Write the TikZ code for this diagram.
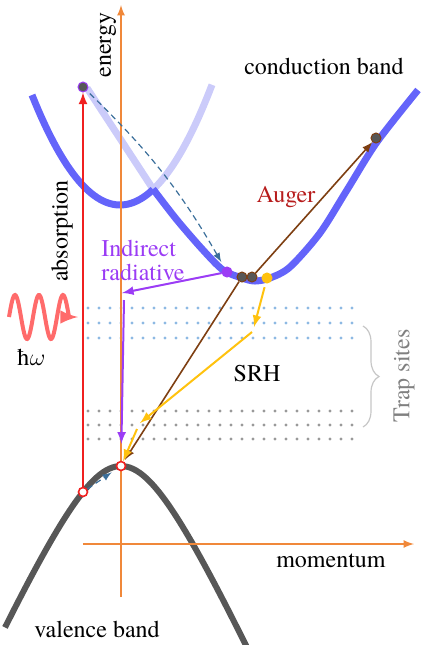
\documentclass[tikz,border=0pt]{standalone}
\usepackage{fontspec}
\setmainfont{texgyretermes}[Extension=.otf, UprightFont=*-regular, BoldFont=*-bold]
\usepackage{xcolor}
\usetikzlibrary{calc}
\usetikzlibrary{arrows}
\usetikzlibrary{decorations.pathreplacing}
\tikzset{>=latex}
\definecolor{cband}{HTML}{6464FA}
\definecolor{cbandlight}{HTML}{CBCBFA}
\definecolor{vband}{HTML}{575757}
\definecolor{axiscol}{HTML}{F0883A}
\definecolor{absred}{HTML}{F02020}
\definecolor{photoncol}{HTML}{FF6B6B}
\definecolor{radpurple}{HTML}{9B3CF5}
\definecolor{augbrown}{HTML}{7E3F12}
\definecolor{augred}{HTML}{B71C1C}
\definecolor{srhyellow}{HTML}{FFC20E}
\definecolor{phononcol}{HTML}{3A6E9A}
\definecolor{trapblue}{HTML}{8DB9E3}
\definecolor{trapgray}{HTML}{999999}
\tikzstyle{bandline} = [line width=3.5pt]
\tikzstyle{axisline} = [->, axiscol, line width=0.8pt]
\tikzstyle{electron} = [circle, inner sep=0pt, minimum size=5pt, fill=vband, draw=radpurple, line width=0.5pt]
\tikzstyle{hole} = [circle, inner sep=0pt, minimum size=4.5pt, fill=white, draw=absred, line width=0.8pt]
\tikzstyle{txt} = [font=\fontsize{12}{12}\selectfont, inner sep=1pt]
\tikzstyle{relax} = [->, phononcol, densely dashed, line width=0.6pt]
\tikzstyle{trans} = [->, line width=1pt]

\begin{document}
\begin{tikzpicture}[x=0.5pt, y=-0.5pt]
    \useasboundingbox (0,0) rectangle (436,645);

    % Draw the trap levels inside the gap
    \foreach \y in {308,323,338}
        \foreach \x in {88,99,...,352}
            \fill[trapblue] (\x,\y) circle (0.85pt);
    \foreach \y in {411,425,439}
        \foreach \x in {88,99,...,352}
            \fill[trapgray] (\x,\y) circle (0.85pt);
    \draw[decorate, decoration={brace, amplitude=8pt}, gray!45, line width=0.6pt] (363,326) -- (363,427);

    % Conduction band (two valleys, upper branches faded)
    \draw[bandline, cbandlight] plot[domain=153:212, samples=30] (\x, {205-0.0142*(\x-120)^2});
    \draw[bandline, cbandlight] (87,88) -- (153,189);
    \draw[bandline, cband] plot[domain=32:153, samples=40] (\x, {205-0.0142*(\x-120)^2});
    \draw[bandline, cband] plot[smooth] coordinates {(153,189) (177,220) (203,250) (223,270) (242,278) (255,281) (270,278) (290,267) (320,233) (347,190) (377,142) (418,90)};

    % Valence band
    \draw[bandline, vband, line width=3pt] plot[domain=5:247, samples=80] (\x, {466+2.2*(10*sqrt(((\x-121)/10)^2+30.25)-55)});

    % Axes
    \coordinate (eBot) at (121,597);
    \coordinate (eTopAx) at (121,5);
    \coordinate (kLeft) at (83,544);
    \coordinate (kRight) at (414,544);
    \draw[axisline] (eBot) -- (eTopAx);
    \draw[axisline] (kLeft) -- (kRight);

    % Labels
    \node[txt, rotate=90] (energy) at (108,45) {energy};
    \node[txt] (momentum) at (331,561) {momentum};
    \node[txt] (cb) at (324,66) {conduction band};
    \node[txt] (vb) at (97,629) {valence band};
    \node[txt, rotate=90] (absorption) at (62,231) {absorption};
    \node[txt] (hw) at (31,357) {ħ$\omega$};
    \node[txt, augred] (auger) at (286,197) {Auger};
    \node[txt, radpurple, align=left] (indirect) at (143,260) {Indirect\\radiative};
    \node[txt] (srh) at (257,374) {SRH};
    \node[txt, gray, rotate=90] (trap) at (404,376) {Trap sites};

    % Carriers
    \node[electron] (eTop) at (83,87) {};
    \node[electron, fill=radpurple] (eRad) at (227,272) {};
    \node[electron, draw=augbrown] (eAugA) at (242,277) {};
    \node[electron, draw=augbrown] (eAugB) at (252,277) {};
    \node[electron, draw=augbrown] (eAugHi) at (376,138) {};
    \node[electron, fill=srhyellow, draw=srhyellow] (eSrh) at (267,278) {};
    \node[hole] (hLow) at (83,492) {};
    \node[hole] (hTop) at (121,466) {};

    % Absorption and relaxation
    \draw[trans, absred] (hLow) -- (eTop);
    \draw[relax, shorten <=2pt, shorten >=3pt] (eTop) to[bend left=8] (eRad);
    \draw[relax, shorten >=3pt] (hLow) -- (hTop);

    % Indirect radiative
    \coordinate (radA) at (122,293);
    \coordinate (radB) at (124,300);
    \draw[trans, radpurple] (eRad) -- (radA);
    \draw[trans, radpurple, shorten >=8.5pt] (radB) -- (hTop);

    % Auger
    \draw[->, augbrown, line width=0.8pt] (eAugB) -- (eAugHi);
    \draw[->, augbrown, line width=0.8pt, shorten >=1pt] (eAugA) -- (hTop);

    % SRH through the traps
    \coordinate (srhA1) at (254,327);
    \coordinate (srhA2) at (252,332);
    \coordinate (srhB1) at (140,423);
    \coordinate (srhB2) at (137,429);
    \draw[trans, srhyellow, shorten <=2pt] (eSrh) -- (srhA1);
    \draw[trans, srhyellow] (srhA2) -- (srhB1);
    \draw[trans, srhyellow] (srhB2) -- (hTop);

    % Incoming photon
    \draw[->, photoncol, line width=2pt] plot[domain=9:69, samples=80, smooth] (\x, {317-22*sin(15*(\x-9))}) -- (78,317);

\end{tikzpicture}
\end{document}
